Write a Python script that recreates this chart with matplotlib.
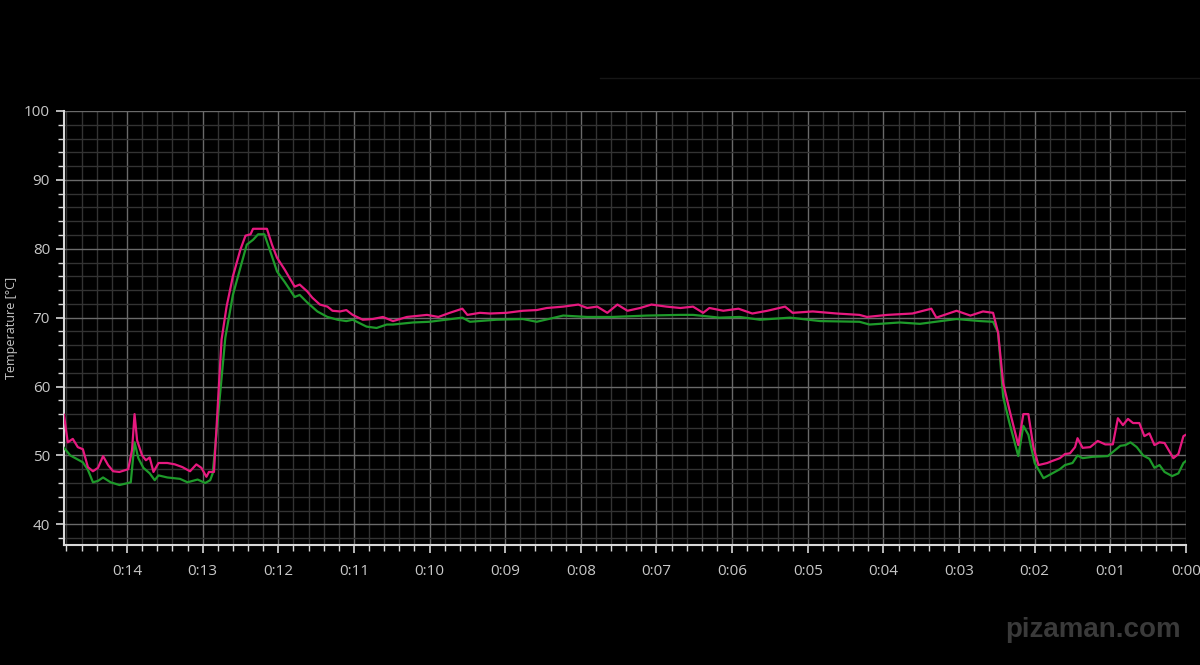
import numpy as np
import matplotlib.pyplot as plt
from matplotlib.ticker import MultipleLocator, FuncFormatter
from matplotlib.lines import Line2D

# time before end of log [s] and temperatures [°C]
t_hot = [890, 887, 883, 879, 875, 871, 867, 863, 859, 855, 851, 846, 839, 836, 834, 832,
         828, 825, 822, 819, 815, 808, 802, 796, 790, 785, 781, 777, 775, 771, 765, 761,
         756, 750, 746, 742, 740, 729, 725, 721, 715, 707, 703, 697, 693, 687, 681, 677,
         671, 666, 661, 653, 645, 637, 629, 618, 602, 593, 584, 574, 570, 560, 552, 539,
         526, 515, 507, 494, 482, 475, 467, 459, 451, 443, 433, 424, 412, 401, 391, 383,
         378, 367, 355, 344, 332, 318, 312, 296, 277, 259, 253, 237, 217, 202, 198, 182,
         171, 161, 153, 149, 145, 140, 133, 129, 125, 121, 117, 110, 106, 100, 96, 92,
         88, 86, 82, 76, 70, 64, 58, 54, 50, 46, 42, 37, 33, 29, 25, 21, 17, 10, 6, 2, 0]
hot = [55.9, 51.9, 52.4, 51.2, 50.9, 48.3, 47.7, 48.2, 49.9, 48.6, 47.7, 47.6, 48.0, 50.8, 56.0, 52.2,
       50.0, 49.3, 49.7, 47.6, 48.9, 48.9, 48.7, 48.3, 47.7, 48.7, 48.2, 46.9, 47.6, 47.6, 66.8, 71.6,
       76.0, 79.9, 81.9, 82.1, 82.9, 82.9, 80.6, 78.7, 77.0, 74.5, 74.8, 73.8, 72.9, 71.9, 71.6, 71.0,
       70.9, 71.1, 70.4, 69.7, 69.8, 70.1, 69.5, 70.1, 70.4, 70.1, 70.7, 71.3, 70.4, 70.7, 70.6, 70.7,
       71.0, 71.1, 71.4, 71.6, 71.9, 71.4, 71.6, 70.7, 71.9, 71.0, 71.4, 71.9, 71.6, 71.4, 71.6, 70.7,
       71.4, 71.0, 71.3, 70.6, 71.0, 71.6, 70.7, 70.9, 70.6, 70.4, 70.1, 70.4, 70.6, 71.3, 70.0, 71.0,
       70.3, 70.9, 70.7, 67.8, 60.5, 56.6, 51.5, 56.0, 56.0, 51.2, 48.6, 48.9, 49.2, 49.6, 50.2, 50.3,
       51.2, 52.5, 51.1, 51.2, 52.1, 51.6, 51.6, 55.4, 54.4, 55.3, 54.7, 54.7, 52.8, 53.2, 51.5, 51.9,
       51.8, 49.6, 50.2, 52.8, 53.0]

t_cool = [890, 885, 879, 875, 871, 867, 863, 859, 853, 846, 839, 837, 834, 831, 827, 822,
          818, 815, 808, 798, 792, 784, 778, 774, 772, 762, 756, 750, 745, 740, 736, 731,
          725, 721, 715, 707, 703, 697, 689, 681, 673, 666, 661, 650, 642, 634, 629, 613,
          600, 574, 568, 547, 526, 515, 494, 475, 455, 428, 401, 391, 370, 354, 338, 314,
          290, 259, 251, 227, 211, 182, 163, 153, 149, 145, 140, 133, 129, 125, 120, 113,
          106, 100, 96, 90, 86, 82, 74, 62, 58, 52, 48, 44, 39, 34, 29, 25, 21, 17, 11, 6, 2, 0]
cool = [51.1, 50.0, 49.4, 49.0, 47.9, 46.1, 46.3, 46.8, 46.1, 45.7, 46.0, 46.1, 51.9, 49.6, 48.2, 47.4,
        46.4, 47.1, 46.8, 46.6, 46.1, 46.5, 46.0, 46.4, 47.4, 67.1, 73.3, 77.3, 80.6, 81.3, 82.1, 82.1,
        78.9, 76.7, 75.2, 73.0, 73.3, 72.2, 70.9, 70.1, 69.7, 69.5, 69.7, 68.7, 68.5, 69.0, 69.0, 69.3,
        69.4, 70.0, 69.4, 69.7, 69.8, 69.4, 70.3, 70.1, 70.1, 70.3, 70.4, 70.4, 70.0, 70.1, 69.7, 70.0,
        69.5, 69.4, 69.0, 69.3, 69.1, 69.8, 69.5, 69.4, 67.8, 58.5, 54.7, 49.9, 54.3, 53.0, 48.9, 46.7,
        47.4, 48.0, 48.6, 48.9, 50.0, 49.6, 49.8, 49.9, 50.5, 51.4, 51.5, 51.9, 51.2, 50.0, 49.5, 48.2,
        48.6, 47.6, 47.0, 47.4, 48.9, 49.2]

hot_color = '#e6197f'
cool_color = '#1e9a2a'
text_color = '#c8c8c8'

fig = plt.figure(figsize=(12, 6.65), dpi=100, facecolor='black')
ax = fig.add_axes([0.0533, 0.1805, 0.935, 0.6526], facecolor='black')

ax.plot(t_hot, hot, color=hot_color, linewidth=1.6, zorder=4)
ax.plot(t_cool, cool, color=cool_color, linewidth=1.6, zorder=3)

ax.set_xlim(890, 0)
ax.set_ylim(37, 100)

ax.xaxis.set_major_locator(MultipleLocator(60))
ax.xaxis.set_minor_locator(MultipleLocator(12))
ax.xaxis.set_major_formatter(FuncFormatter(lambda v, p: '0:%02d' % int(round(v / 60))))
ax.yaxis.set_major_locator(MultipleLocator(10))
ax.yaxis.set_minor_locator(MultipleLocator(2))

ax.grid(which='major', color='#6a6a6a', linewidth=1.0)
ax.grid(which='minor', color='#333333', linewidth=1.0)
ax.set_axisbelow(True)

for side in ['top', 'right']:
    ax.spines[side].set_visible(False)
for side in ['left', 'bottom']:
    ax.spines[side].set_color('#d8d8d8')
    ax.spines[side].set_linewidth(1.5)

ax.tick_params(which='major', colors='#d8d8d8', labelcolor=text_color, labelsize=11,
               length=6, width=1.2)
ax.tick_params(which='minor', colors='#d8d8d8', length=4, width=1.0)
ax.tick_params(axis='x', which='major', pad=8)
ax.tick_params(axis='y', which='major', pad=4)
for lab in ax.get_xticklabels() + ax.get_yticklabels():
    lab.set_family('Open Sans')

ax.set_ylabel('Temperature [°C]', color=text_color, fontsize=9, family='Open Sans')
ax.yaxis.set_label_coords(-0.041, 0.5)

# faint line along the top of the window
fig.add_artist(Line2D([0.5, 1.0], [0.883, 0.883], color='#161616', linewidth=1))

fig.text(0.911, 0.033, 'pizaman.com', color='#3a3a3a', fontsize=20, fontweight='bold',
         family='Liberation Sans', ha='center', va='bottom')

fig.savefig('out.png', dpi=100, facecolor='black')
